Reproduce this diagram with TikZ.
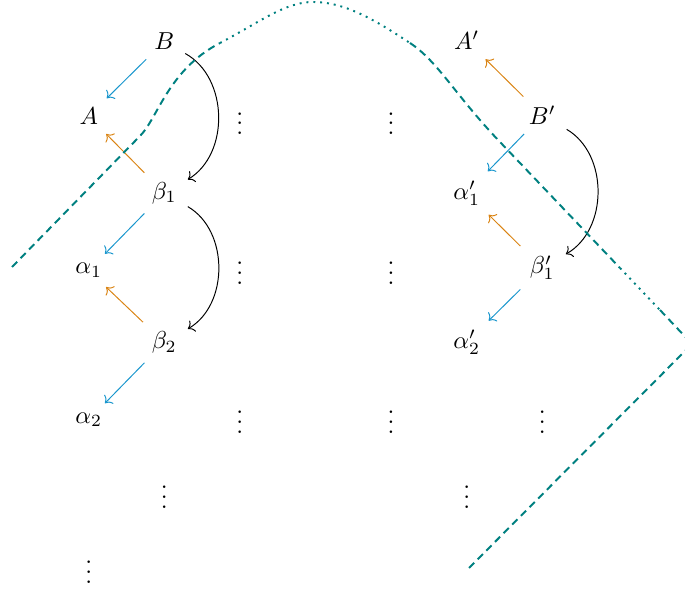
\documentclass[tikz,border=0pt]{standalone}
\usetikzlibrary{arrows.meta}
\definecolor{arrblue}{RGB}{25,150,205}
\definecolor{arrorange}{RGB}{218,132,20}
\definecolor{cutteal}{RGB}{0,128,128}
\begin{document}
\begin{tikzpicture}[x=0.408pt,y=-0.408pt,
  cell/.style={shape=rectangle, inner xsep=1ex, inner ysep=0.85ex, anchor=base},
  dotscell/.style={inner sep=0pt, anchor=base},
  map/.style={-{Computer Modern Rightarrow}, line width=0.4pt},
  bluemap/.style={map, draw=arrblue},
  orangemap/.style={map, draw=arrorange},
  blackmap/.style={map, draw=black},
  cutdash/.style={draw=cutteal, line width=0.8pt, dash pattern=on 3pt off 2pt},
  cutdot/.style={draw=cutteal, line width=0.8pt, dash pattern=on 0.8pt off 2pt}
]
\useasboundingbox (0,0) rectangle (685,599);

% row 1
\node[cell] (B)  at (164.3,49.8) {$B$};
\node[cell] (Ap) at (466.7,49.8) {$A'$};
% row 2
\node[cell] (A)  at (88.7,124.5) {$A$};
\node[dotscell] (d23) at (239.9,134.8) {$\vdots$};
\node[dotscell] (d25) at (391.1,134.8) {$\vdots$};
\node[cell] (Bp) at (542.3,124.5) {$B'$};
% row 3
\node[cell] (b1)  at (164.3,199.2) {$\beta_1$};
\node[cell] (a1p) at (466.7,199.2) {$\alpha'_1$};
% row 4
\node[cell] (a1)  at (88.7,273.9) {$\alpha_1$};
\node[dotscell] (d43) at (239.9,284.2) {$\vdots$};
\node[dotscell] (d45) at (391.1,284.2) {$\vdots$};
\node[cell] (b1p) at (542.3,273.9) {$\beta'_1$};
% row 5
\node[cell] (b2)  at (164.3,348.6) {$\beta_2$};
\node[cell] (a2p) at (466.7,348.6) {$\alpha'_2$};
% row 6
\node[cell] (a2)  at (88.7,423.3) {$\alpha_2$};
\node[dotscell] (d63) at (239.9,433.6) {$\vdots$};
\node[dotscell] (d65) at (391.1,433.6) {$\vdots$};
\node[dotscell] (d67) at (542.3,433.6) {$\vdots$};
% row 7
\node[dotscell] (d72) at (164.3,508.3) {$\vdots$};
\node[dotscell] (d76) at (466.7,508.3) {$\vdots$};
% row 8
\node[dotscell] (d81) at (88.7,583.0) {$\vdots$};

% blue maps
\draw[bluemap] (B) -- (A);
\draw[bluemap] (b1) -- (a1);
\draw[bluemap] (b2) -- (a2);
\draw[bluemap] (Bp) -- (a1p);
\draw[bluemap] (b1p) -- (a2p);
% orange maps
\draw[orangemap] (b1) -- (A);
\draw[orangemap] (b2) -- (a1);
\draw[orangemap] (Bp) -- (Ap);
\draw[orangemap] (b1p) -- (a1p);
% bent maps
\draw[blackmap] (B) to[bend left=60] (b1);
\draw[blackmap] (b1) to[bend left=60] (b2);
\draw[blackmap] (Bp) to[bend left=60] (b1p);

% teal cut
\coordinate (t0) at (12,267);
\coordinate (t1) at (140,136);
\coordinate (t2) at (220,43);
\coordinate (t3) at (313,2);
\coordinate (t4) at (410,43);
\coordinate (t5) at (500,142);
\coordinate (t6) at (620,268);
\coordinate (t7) at (660,310);
\coordinate (t8) at (692,344);
\coordinate (t9) at (467,570);
\draw[cutdash] (t0) -- (t1) .. controls (158,118) and (168,70) .. (t2);
\draw[cutdot] (t2) .. controls (260,22) and (285,2) .. (t3) .. controls (345,2) and (375,20) .. (t4);
\draw[cutdash] (t4) .. controls (438,61.4) and (455,95) .. (t5) -- (t6);
\draw[cutdot] (t6) -- (t7);
\draw[cutdash] (t7) -- (t8) -- (t9);
\end{tikzpicture}
\end{document}
